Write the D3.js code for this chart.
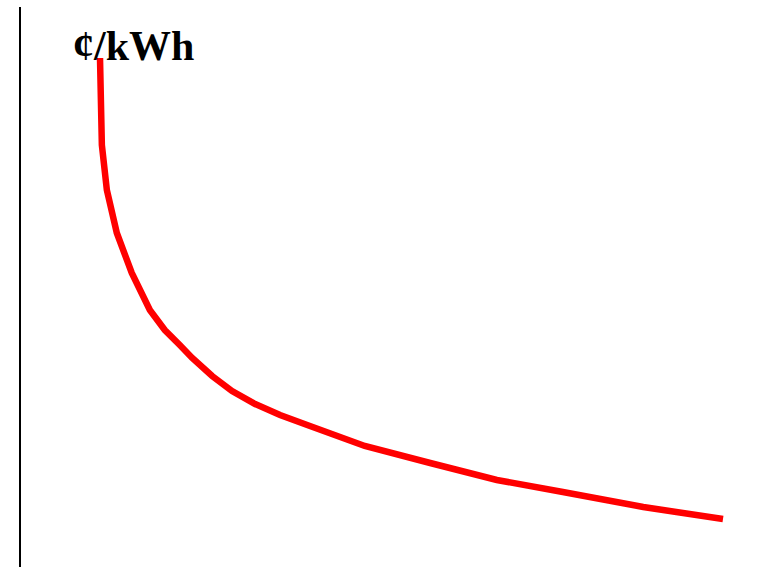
<!DOCTYPE html>
<html>
<head>
<meta charset="utf-8">
<script src="https://cdn.jsdelivr.net/npm/d3@7"></script>
<style>
  html, body { margin: 0; padding: 0; background: #fff; }
  svg { display: block; }
</style>
</head>
<body>
<div id="chart"></div>
<script>
// cost curve (x: share of range 0-100, y: relative cost 0-100)
var xValues = [0, 0.3, 1.1, 2.7, 5.1, 8.0, 10.4, 12.8, 14.8, 18.0, 21.2, 24.9, 28.9, 33.7, 42.5, 53.0, 63.7, 74.3, 87.2, 100];
var costValues = [100, 82.6, 73.6, 65, 57, 49.6, 45.6, 42.6, 40, 36.4, 33.4, 30.8, 28.6, 26.4, 22.4, 19, 15.6, 13.2, 10.2, 7.8];
var yLabel = "¢/kWh";

var width = 781, height = 567;

var svg = d3.select("#chart").append("svg")
    .attr("width", width)
    .attr("height", height);

var x = d3.scaleLinear().domain([0, 100]).range([100, 723]);
var y = d3.scaleLinear().domain([0, 100]).range([558, 58]);

// vertical axis, no ticks
svg.append("line")
    .attr("x1", 20).attr("x2", 20)
    .attr("y1", 7).attr("y2", height)
    .attr("stroke", "#000")
    .attr("stroke-width", 2);

var points = xValues.map(function (d, i) { return [d, costValues[i]]; });

var line = d3.line()
    .x(function (d) { return x(d[0]); })
    .y(function (d) { return y(d[1]); });

svg.append("path")
    .datum(points)
    .attr("d", line)
    .attr("fill", "none")
    .attr("stroke", "#ff0000")
    .attr("stroke-width", 6.5)
    .attr("stroke-linejoin", "miter");

svg.append("text")
    .attr("x", 73)
    .attr("y", 60)
    .attr("font-family", "'Liberation Serif', 'Times New Roman', serif")
    .attr("font-weight", "bold")
    .attr("font-size", 42)
    .attr("fill", "#000")
    .text(yLabel);
</script>
</body>
</html>
